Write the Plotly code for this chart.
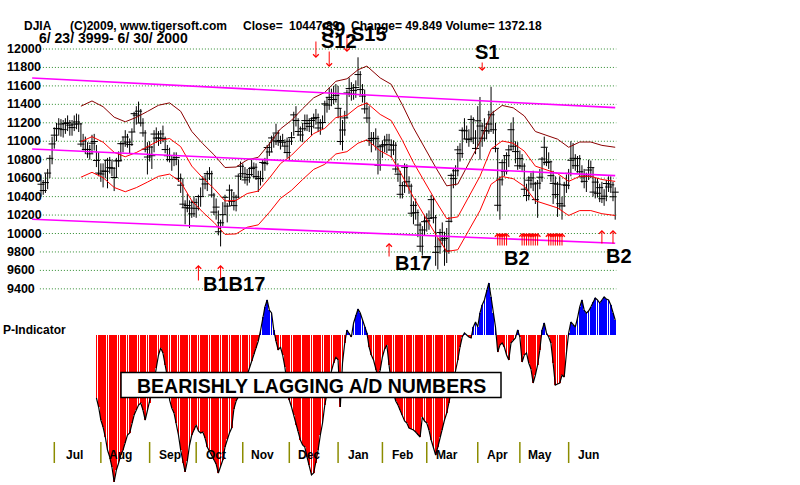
import pandas as pd
import plotly.graph_objects as go

# ------------------------------------------------------------------ data
holidays = ["1999-07-05", "1999-09-06", "1999-11-25", "1999-12-24",
            "2000-01-17", "2000-02-21", "2000-04-21", "2000-05-29"]

closes = [
    # Jun 1999
    10534, 10466, 10552, 10655, 10815, 10971,
    # Jul
    11066, 11139, 11135, 11187, 11126, 11193, 11200, 11175, 11148, 11186, 11209, 11188, 10969, 11002, 10911, 10911, 10864, 10979, 10997, 10792, 10655,
    # Aug
    10645, 10677, 10674, 10794, 10714, 10707, 10607, 10787, 10789, 10974, 10973, 11046, 10991, 10964, 11100, 11299, 11283, 11326, 11198, 11090, 10914, 10829,
    # Sep
    10937, 10843, 11078, 11034, 11036, 11079, 11028, 10910, 10843, 10802, 10801, 10803, 10823, 10598, 10524, 10318, 10279, 10303, 10275, 10213, 10337,
    # Oct
    10273, 10401, 10400, 10588, 10537, 10649, 10648, 10417, 10232, 10286, 10019, 10116, 10204, 10392, 10297, 10470, 10349, 10302, 10394, 10622, 10729,
    # Nov
    10648, 10581, 10609, 10639, 10704, 10718, 10617, 10598, 10595, 10770, 10760, 10932, 10884, 11036, 11003, 11089, 10995, 11008, 10989, 10947, 10878,
    # Dec
    10999, 11039, 11286, 11225, 11106, 11068, 11135, 11224, 11193, 11161, 11225, 11245, 11257, 11144, 11200, 11203, 11405, 11392, 11476, 11453, 11452, 11497,
    # Jan 2000
    11357, 10997, 11122, 11253, 11523, 11572, 11511, 11551, 11582, 11723, 11560, 11490, 11351, 11252, 11009, 11029, 11032, 11028, 10739, 10941,
    # Feb
    10958, 10963, 11013, 10963, 10905, 10957, 10699, 10643, 10425, 10519, 10718, 10561, 10514, 10220, 10305, 10226, 10092, 9862, 10038, 10128,
    # Mar
    10137, 10164, 10367, 10171, 9796, 9857, 10011, 9929, 9947, 9811, 10132, 10630, 10595, 10680, 10907, 10866, 11119, 11113, 11025, 11018, 11236, 11034, 10922,
    # Apr
    11222, 11165, 11033, 11115, 11111, 11187, 11287, 11125, 10923, 10306, 10582, 10768, 10674, 10844, 10907, 11125, 10946, 10888, 10734,
    # May
    10812, 10731, 10480, 10412, 10578, 10603, 10537, 10367, 10545, 10610, 10807, 10935, 10769, 10777, 10627, 10543, 10422, 10535, 10323, 10299, 10527, 10522,
    # Jun
    10652, 10794, 10815, 10735, 10812, 10669, 10614, 10565, 10622, 10688, 10714, 10449, 10557, 10436, 10497, 10377, 10404, 10542, 10504, 10527, 10398, 10448,
]

highs = [
    10640, 10580, 10650, 10700, 10850, 11050,
    11150, 11200, 11250, 11240, 11230, 11250, 11280, 11230, 11230, 11280, 11300, 11290, 11200, 11080, 11050, 10990, 10960, 11070, 11080, 10960, 10880,
    10760, 10760, 10800, 10820, 10830, 10800, 10720, 10820, 10890, 11000, 11050, 11120, 11080, 11030, 11140, 11320, 11380, 11430, 11350, 11250, 11120, 10990,
    11000, 10950, 11120, 11150, 11110, 11120, 11170, 11050, 10960, 10930, 10850, 10880, 10880, 10800, 10650, 10600, 10360, 10430, 10360, 10360, 10400,
    10380, 10420, 10500, 10620, 10640, 10680, 10720, 10680, 10440, 10380, 10250, 10150, 10340, 10420, 10330, 10530, 10480, 10450, 10420, 10650, 10780,
    10760, 10720, 10700, 10720, 10800, 10770, 10760, 10680, 10680, 10800, 10820, 10960, 10990, 11060, 11080, 11190, 11120, 11060, 11080, 11020, 11040,
    11030, 11100, 11320, 11380, 11250, 11160, 11200, 11290, 11290, 11250, 11260, 11300, 11350, 11300, 11240, 11280, 11440, 11480, 11580, 11570, 11600, 11620,
    11600, 11360, 11230, 11330, 11560, 11690, 11640, 11620, 11660, 11910, 11760, 11620, 11560, 11420, 11380, 11100, 11100, 11140, 11060, 10960,
    11010, 11060, 11080, 11080, 11020, 11010, 10990, 10760, 10680, 10560, 10760, 10750, 10620, 10540, 10350, 10380, 10260, 10120, 10080, 10200,
    10220, 10250, 10420, 10400, 10200, 9950, 10050, 10120, 10020, 10060, 10180, 10650, 10710, 10740, 10950, 10980, 11150, 11250, 11170, 11130, 11280, 11260, 11120,
    11380, 11480, 11200, 11250, 11200, 11330, 11590, 11330, 11200, 10920, 10620, 10800, 10850, 10880, 10960, 11200, 11260, 11000, 10990,
    10900, 10860, 10760, 10540, 10620, 10660, 10680, 10560, 10580, 10700, 10830, 11050, 10930, 10880, 10790, 10680, 10620, 10560, 10620, 10400, 10560, 10640,
    10700, 11000, 10980, 10860, 10840, 10850, 10740, 10700, 10660, 10800, 10790, 10720, 10600, 10600, 10540, 10560, 10480, 10580, 10620, 10620, 10560, 10500,
]

lows = [
    10400, 10420, 10440, 10480, 10600, 10750,
    10920, 11000, 11060, 11050, 11040, 11080, 11110, 11060, 11060, 11110, 11130, 11100, 10940, 10900, 10860, 10820, 10800, 10870, 10900, 10720, 10620,
    10560, 10500, 10600, 10490, 10650, 10620, 10460, 10600, 10720, 10780, 10880, 10940, 10930, 10870, 10950, 11100, 11180, 11200, 11160, 11050, 10880, 10640,
    10780, 10700, 10880, 10980, 10950, 10970, 10990, 10870, 10780, 10770, 10680, 10730, 10740, 10560, 10440, 10280, 10100, 10230, 10060, 10170, 10180,
    10170, 10250, 10290, 10400, 10480, 10460, 10580, 10390, 10200, 10150, 9980, 9860, 10080, 10200, 10120, 10300, 10300, 10250, 10240, 10380, 10580,
    10600, 10540, 10520, 10550, 10620, 10600, 10580, 10450, 10520, 10560, 10680, 10740, 10840, 10880, 10930, 10960, 10950, 10910, 10950, 10870, 10820,
    10800, 10960, 11060, 11160, 11060, 11000, 10990, 11110, 11110, 11100, 11060, 11140, 11180, 11100, 11070, 11130, 11210, 11310, 11340, 11380, 11400, 11420,
    11250, 10960, 10900, 11060, 11250, 11480, 11440, 11450, 11470, 11600, 11510, 11420, 11300, 11200, 10950, 10880, 10960, 10900, 10640, 10680,
    10820, 10880, 10870, 10900, 10820, 10850, 10660, 10560, 10380, 10380, 10440, 10510, 10430, 10180, 10100, 10150, 9960, 9800, 9760, 9980,
    10020, 10040, 10160, 10110, 9650, 9610, 9780, 9870, 9650, 9680, 9780, 10120, 10490, 10520, 10620, 10780, 10820, 11020, 10980, 10940, 10990, 10970, 10860,
    10950, 10800, 10940, 11000, 11020, 11080, 11100, 11080, 10880, 10240, 10150, 10520, 10620, 10640, 10720, 10900, 10900, 10760, 10690,
    10700, 10680, 10420, 10350, 10360, 10490, 10460, 10320, 10170, 10480, 10560, 10740, 10730, 10700, 10560, 10320, 10380, 10180, 10260, 10150, 10290, 10440,
    10480, 10620, 10700, 10680, 10660, 10620, 10550, 10490, 10450, 10580, 10600, 10400, 10380, 10390, 10340, 10330, 10300, 10350, 10450, 10440, 10350, 10150,
]

# 21-day moving average (weekly readings)
band_dates = ["1999-07-20", "1999-07-27", "1999-08-03", "1999-08-10", "1999-08-17", "1999-08-24", "1999-08-31",
              "1999-09-08", "1999-09-15", "1999-09-22", "1999-09-29", "1999-10-06", "1999-10-13", "1999-10-20",
              "1999-10-27", "1999-11-03", "1999-11-10", "1999-11-17", "1999-11-24", "1999-12-02", "1999-12-09",
              "1999-12-16", "1999-12-23", "1999-12-31", "2000-01-07", "2000-01-14", "2000-01-21", "2000-01-31",
              "2000-02-07", "2000-02-14", "2000-02-22", "2000-02-29", "2000-03-07", "2000-03-14", "2000-03-21",
              "2000-03-28", "2000-04-04", "2000-04-11", "2000-04-18", "2000-04-26", "2000-05-03", "2000-05-10",
              "2000-05-17", "2000-05-24", "2000-06-01", "2000-06-08", "2000-06-15", "2000-06-22", "2000-06-30"]
band_mid = [10995, 11050, 10990, 10880, 10832, 10878, 10940,
            11005, 11030, 10942, 10731, 10602, 10487, 10353,
            10358, 10433, 10460, 10600, 10757, 10848, 10969,
            11083, 11140, 11256, 11282, 11377, 11415, 11291,
            11224, 11010, 10769, 10555, 10355, 10161, 10180,
            10400, 10620, 10915, 11003, 10978, 10893, 10730,
            10690, 10650, 10565, 10620, 10620, 10585, 10565]
band_pct = 3.5

# trend channel (price at left end, price at right end)
trend_left = [11686, 10916, 10154]
trend_right = [11364, 10627, 9894]

# P-Indicator daily values from 1999-07-29
p_start = "1999-07-29"
p_values = [
    -63, -72, -85, -92, -102, -115, -122, -132, -147, -135,
    -128, -120, -115, -108, -100, -98, -88, -80, -75, -70,
    -68, -75, -85, -76, -68, -58, -47, -33, -20, -13,
    -18, -30, -42, -65, -73, -78, -88, -100, -115, -128,
    -137, -126, -110, -100, -95, -90, -96, -98, -97, -103,
    -112, -116, -121, -125, -129, -138, -132, -125, -112, -104,
    -98, -93, -74, -66, -62, -56, -52, -47, -40, -33,
    -26, -19, -13, -6, 4, 18, 28, 35, 25, 22,
    5, -6, -15, -12, -20, -32, -50, -65, -72, -80,
    -90, -96, -105, -110, -112, -122, -130, -140, -138, -128,
    -115, -100, -88, -70, -58, -44, -36, -28, -22, -25,
    -72, -28, -8, 5, 2, -2, 12, 20, 26, 22,
    15, 8, 2, -12, -20, -25, -35, -42, -35, -22,
    -14, -10, -30, -50, -58, -66, -70, -75, -80, -86,
    -88, -93, -94, -95, -97, -100, -102, -82, -86, -88,
    -95, -105, -113, -120, -112, -102, -95, -85, -78, -68,
    -55, -48, -38, -25, -12, -2, 2, 0, -2, -3,
    8, 13, 8, 22, 30, 35, 45, 52, 38, 22,
    8, -17, -10, -8, -12, -20, -25, -8, -5, -3,
    5, -2, -27, -20, -18, -28, -34, -48, -40, -30,
    -15, 5, 12, 2, -2, -8, -28, -50, -49, -48,
    -40, -42, -18, 2, 13, 10, 8, 17, 28, 35,
    25, 22, 24, 28, 33, 37, 35, 32, 35, 38,
    36, 35, 30, 22, 15,
]

sell_dates = ["1999-12-17", "1999-12-28", "2000-01-07", "2000-04-05"]
buy_dates = ["1999-10-04", "1999-10-18", "2000-02-04",
             "2000-04-14", "2000-04-17", "2000-04-18", "2000-04-19", "2000-04-20",
             "2000-05-02", "2000-05-03", "2000-05-04", "2000-05-05", "2000-05-08", "2000-05-09", "2000-05-10", "2000-05-11",
             "2000-05-18", "2000-05-19", "2000-05-22", "2000-05-23", "2000-05-24", "2000-05-25", "2000-05-26",
             "2000-06-22", "2000-06-29"]
signal_labels = ["S9", "S12", "S15", "S1", "B1B17", "B17", "B2", "B2"]

price_ticks = [12000, 11800, 11600, 11400, 11200, 11000, 10800, 10600, 10400, 10200, 10000, 9800, 9600, 9400]
month_names = ["Jul", "Aug", "Sep", "Oct", "Nov", "Dec", "Jan", "Feb", "Mar", "Apr", "May", "Jun"]

header_items = ["DJIA", "(C)2009, www.tigersoft.com", "Close=", "10447.89", "Change= 49.849 Volume= 1372.18"]
range_text = "6/ 23/ 3999- 6/ 30/ 2000"
box_text = "BEARISHLY LAGGING A/D NUMBERS"

# ------------------------------------------------------------------ geometry helpers
W, H = 800, 485
FONT = "Liberation Sans, Arial, Helvetica, sans-serif"
dates = [d for d in pd.bdate_range("1999-06-23", "2000-06-30") if d.strftime("%Y-%m-%d") not in holidays]
n = len(dates)
assert n == len(closes) == len(highs) == len(lows)
didx = {d.strftime("%Y-%m-%d"): i for i, d in enumerate(dates)}

X0_PX, DX_PX = 41.0, 2.217          # pixel of first day, pixels per trading day
PY_TOP, PY_PER = 49.0, 0.09225       # pixel of 12000, pixels per point
IND_ZERO_PX = 335.0


def price_at(ypx):
    return 12000 - (ypx - PY_TOP) / PY_PER


def fy(ypx):
    return 1 - ypx / H


def fx(xpx):
    return xpx / W


x_range = [(0 - X0_PX) / DX_PX, (W - X0_PX) / DX_PX]
y_range = [price_at(H), price_at(0)]

fig = go.Figure()

# price bars (high-low) and close ticks
hx, hy = [], []
for i in range(n):
    hx += [i, i, None]
    hy += [lows[i], highs[i], None]
fig.add_trace(go.Scatter(x=hx, y=hy, mode="lines", line=dict(color="black", width=1), hoverinfo="skip"))
fig.add_trace(go.Scatter(x=list(range(n)), y=closes, mode="markers",
                         marker=dict(symbol="line-ew", size=5, line=dict(color="black", width=1)),
                         hoverinfo="skip"))

# envelope bands
bx = [didx[d] for d in band_dates]
upper = [v * (1 + band_pct / 100) for v in band_mid]
lower = [v * (1 - band_pct / 100) for v in band_mid]
fig.add_trace(go.Scatter(x=bx, y=upper, mode="lines", line=dict(color="#8b0000", width=1)))
fig.add_trace(go.Scatter(x=bx, y=band_mid, mode="lines", line=dict(color="#ff0000", width=1)))
fig.add_trace(go.Scatter(x=bx, y=lower, mode="lines", line=dict(color="#ff0000", width=1)))

# trend channel
tx = [-4, n - 1]
for a, b in zip(trend_left, trend_right):
    fig.add_trace(go.Scatter(x=tx, y=[a, b], mode="lines", line=dict(color="#ff00ff", width=1.6)))

# P-Indicator
ps = didx[p_start]
px_ = list(range(ps, ps + len(p_values)))
colors = ["#0000ff" if v > 0 else "#ff0000" for v in p_values]
fig.add_trace(go.Bar(x=px_, y=p_values, yaxis="y2", width=0.36,
                     marker=dict(color=colors, line=dict(width=0)), hoverinfo="skip"))
fig.add_trace(go.Scatter(x=px_, y=p_values, yaxis="y2", mode="lines",
                         line=dict(color="black", width=1.2), hoverinfo="skip"))

shapes = []
annotations = []

# dotted price grid lines + labels
for v in price_ticks:
    shapes.append(dict(type="line", xref="x", yref="y", x0=-0.5, x1=n - 0.5, y0=v, y1=v,
                       line=dict(color="#2e8b2e", width=1, dash="1px,2px"), layer="below"))
    annotations.append(dict(text="<b>%d</b>" % v, x=fx(5), y=v, xref="paper", yref="y",
                            xanchor="left", yanchor="middle", showarrow=False,
                            font=dict(family=FONT, size=12.5, color="black")))

# month ticks and labels
month_starts = [i for i in range(1, n) if dates[i].month != dates[i - 1].month]
for i, name in zip(month_starts, month_names):
    shapes.append(dict(type="line", xref="x", yref="paper", x0=i, x1=i, y0=fy(463), y1=fy(442),
                       line=dict(color="#8c8c00", width=1.5)))
    annotations.append(dict(text="<b>%s</b>" % name, x=i, y=fy(455), xref="x", yref="paper",
                            xshift=20, xanchor="center", yanchor="middle", showarrow=False,
                            font=dict(family=FONT, size=12, color="black")))

# boxed comment
shapes.append(dict(type="rect", xref="paper", yref="paper", x0=fx(121), x1=fx(501), y0=fy(397.5), y1=fy(372.5),
                   fillcolor="white", line=dict(color="black", width=1.5), layer="above"))
annotations.append(dict(text="<b>%s</b>" % box_text, x=fx(311), y=fy(385.5), xref="paper", yref="paper",
                        xanchor="center", yanchor="middle", showarrow=False,
                        font=dict(family=FONT, size=19.5, color="black")))

# header texts
for t, xp in zip(header_items, [22, 68, 241, 287, 349]):
    annotations.append(dict(text="<b>%s</b>" % t, x=fx(xp), y=fy(25.5), xref="paper", yref="paper",
                            xanchor="left", yanchor="middle", showarrow=False,
                            font=dict(family=FONT, size=12, color="black")))
annotations.append(dict(text="<b>%s</b>" % range_text, x=fx(37), y=fy(38), xref="paper", yref="paper",
                        xanchor="left", yanchor="middle", showarrow=False,
                        font=dict(family=FONT, size=14, color="black")))
annotations.append(dict(text="<b>P-Indicator</b>", x=fx(1), y=fy(330), xref="paper", yref="paper",
                        xanchor="left", yanchor="middle", showarrow=False,
                        font=dict(family=FONT, size=12, color="black")))

# signal arrows (head pixel, tail pixel)
sell_geom = [(58, 40), (67, 50), (52, 33), (71, 61)]
for d, (hd, tl) in zip(sell_dates, sell_geom):
    annotations.append(dict(text="", x=didx[d], y=price_at(hd), xref="x", yref="y",
                            ax=0, ay=tl - hd, showarrow=True, arrowhead=4, arrowsize=1.1,
                            arrowwidth=1, arrowcolor="#ff0000", standoff=0))


def buy_geom(d):
    if d < "1999-12-31":
        return (265, 282)
    if d < "2000-03-01":
        return (243, 258)
    if d < "2000-06-01":
        return (233, 247)
    return (230, 245)


for d in buy_dates:
    hd, tl = buy_geom(d)
    annotations.append(dict(text="", x=didx[d], y=price_at(hd), xref="x", yref="y",
                            ax=0, ay=tl - hd, showarrow=True, arrowhead=4, arrowsize=1.1,
                            arrowwidth=1, arrowcolor="#ff0000", standoff=0))

# signal labels
label_pos = [(333, 29), (339, 41), (369, 34), (487, 52), (234, 284), (413, 263), (517, 258), (619, 256)]
for t, (xp, yp) in zip(signal_labels, label_pos):
    annotations.append(dict(text="<b>%s</b>" % t, x=fx(xp), y=fy(yp), xref="paper", yref="paper",
                            xanchor="center", yanchor="middle", showarrow=False,
                            font=dict(family=FONT, size=20, color="black")))

fig.update_layout(
    width=W, height=H, autosize=False,
    margin=dict(l=0, r=0, t=0, b=0, pad=0),
    paper_bgcolor="white", plot_bgcolor="white",
    showlegend=False,
    xaxis=dict(range=x_range, visible=False, fixedrange=True),
    yaxis=dict(range=y_range, visible=False, fixedrange=True),
    yaxis2=dict(range=[IND_ZERO_PX - H, IND_ZERO_PX], overlaying="y", visible=False, fixedrange=True),
    shapes=shapes,
    annotations=annotations,
)

fig.write_html("out.html", config={"displayModeBar": False})
